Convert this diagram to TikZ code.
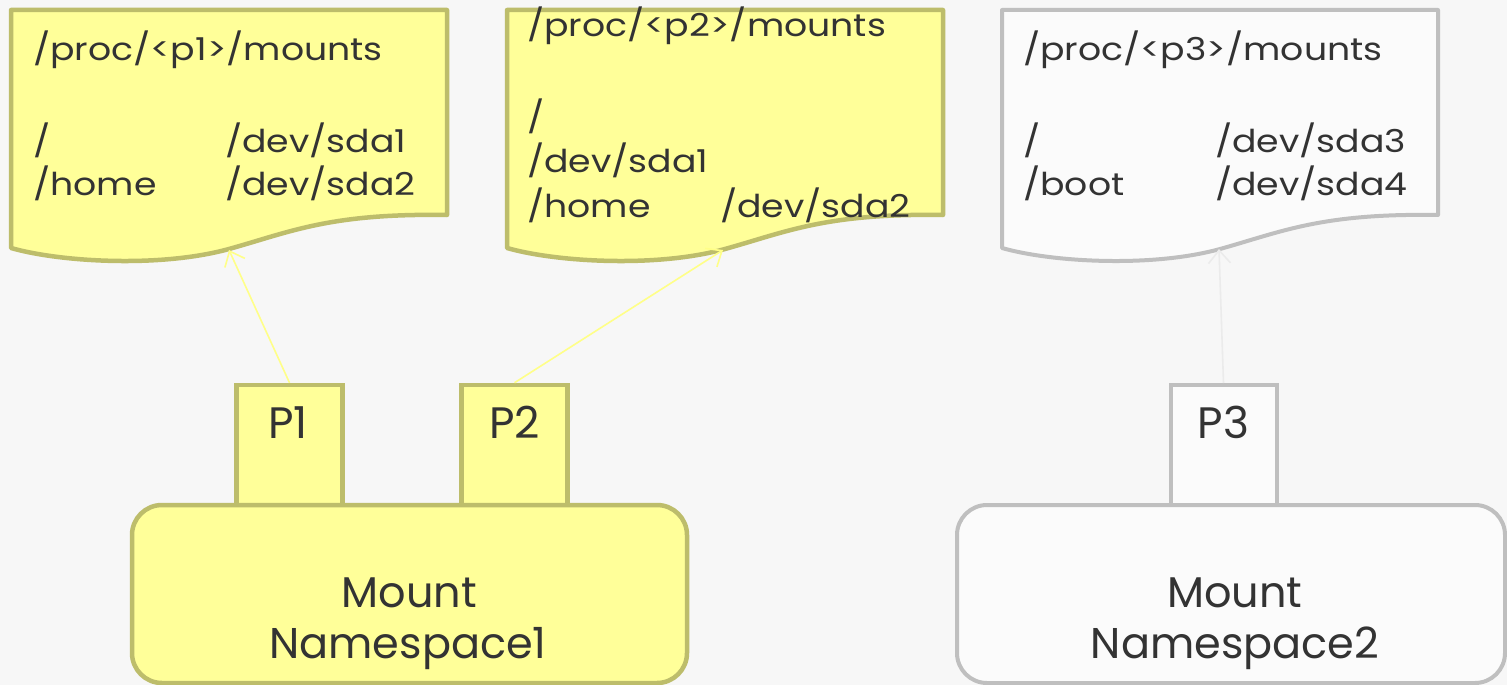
\documentclass[tikz,border=0pt]{standalone}
\usepackage{fontspec}
\setmainfont{Poppins}
\newfontfamily\docfont[FakeStretch=1.15]{Poppins}
\usetikzlibrary{arrows.meta}
\definecolor{bg}{HTML}{F7F7F7}
\definecolor{yfill}{HTML}{FFFF99}
\definecolor{ydraw}{HTML}{BDBD6B}
\definecolor{gfill}{HTML}{FBFBFB}
\definecolor{gdraw}{HTML}{BFBFBF}
\definecolor{txt}{HTML}{333333}
\definecolor{yarrow}{HTML}{FFFF88}
\definecolor{garrow}{HTML}{EBEBEB}
\tikzset{
  ydoc/.style={fill=yfill,draw=ydraw,line width=4.5pt,line join=round},
  gdoc/.style={fill=gfill,draw=gdraw,line width=4pt,line join=round},
  doctext/.style={anchor=base west,inner sep=0pt,text=txt,font=\docfont\fontsize{31.5}{36}\selectfont},
  bigtext/.style={anchor=base,inner sep=0pt,text=txt,font=\fontsize{43}{48}\selectfont},
  ptext/.style={anchor=base,inner sep=0pt,text=txt,font=\fontsize{44}{48}\selectfont},
  pbox/.style={rectangle,minimum width=106pt,minimum height=120pt,inner sep=0pt},
  nsbox/.style={rectangle,rounded corners=30pt,minimum width=555pt,minimum height=178pt,inner sep=0pt},
  yarr/.style={draw=yarrow,line width=1.6pt,-{Straight Barb[length=13pt,width=22pt]}},
  garr/.style={draw=garrow,line width=1.6pt,-{Straight Barb[length=13pt,width=22pt]}},
}
\begin{document}
\begin{tikzpicture}[x=1pt,y=-1pt]
\fill[bg] (0,0) rectangle (1507,685);
\useasboundingbox (0,0) rectangle (1507,685);

% documents
\foreach \off/\sty in {0/ydoc,496/ydoc,991/gdoc}{
  \begin{scope}[xshift=\off pt]
    \draw[\sty] (11,10) -- (447,10) -- (447,215)
      .. controls (330,213) and (290,232) .. (229,249)
      .. controls (160,268) and (60,262) .. (11,248) -- cycle;
  \end{scope}
}
\coordinate (d1) at (229,250);
\coordinate (d2) at (723,250);
\coordinate (d3) at (1219,249);

% doc 1 text
\node[doctext] (t1a) at (33,60) {/proc/<p1>/mounts};
\node[doctext] (t1b) at (33,152) {/};
\node[doctext] (t1c) at (225,152) {/dev/sda1};
\node[doctext] (t1d) at (33,195) {/home};
\node[doctext] (t1e) at (225,195) {/dev/sda2};
% doc 2 text
\node[doctext] (t2a) at (527,37) {/proc/<p2>/mounts};
\node[doctext] (t2b) at (527,128) {/};
\node[doctext] (t2c) at (527,172) {/dev/sda1};
\node[doctext] (t2d) at (527,217) {/home};
\node[doctext] (t2e) at (720,217) {/dev/sda2};
% doc 3 text
\node[doctext] (t3a) at (1023,60) {/proc/<p3>/mounts};
\node[doctext] (t3b) at (1023,152) {/};
\node[doctext] (t3c) at (1215,152) {/dev/sda3};
\node[doctext] (t3d) at (1023,195) {/boot};
\node[doctext] (t3e) at (1215,195) {/dev/sda4};

% process boxes
\node[pbox,fill=yfill,draw=ydraw,line width=4.5pt] (p1) at (289.5,445) {};
\node[pbox,fill=yfill,draw=ydraw,line width=4.5pt] (p2) at (514.5,445) {};
\node[pbox,fill=gfill,draw=gdraw,line width=4pt] (p3) at (1223.5,445) {};
\node[ptext] (p1t) at (288,438) {P1};
\node[ptext] (p2t) at (514.5,438) {P2};
\node[ptext] (p3t) at (1223.5,438) {P3};

% namespaces
\node[nsbox,fill=yfill,draw=ydraw,line width=4.5pt] (ns1) at (409.5,594) {};
\node[nsbox,fill=gfill,draw=gdraw,line width=4pt,minimum width=548pt] (ns2) at (1231,594) {};
\node[bigtext] (ns1a) at (409.5,607) {Mount};
\node[bigtext] (ns1b) at (408,658) {Namespace1};
\node[bigtext] (ns2a) at (1235,607) {Mount};
\node[bigtext] (ns2b) at (1235,658) {Namespace2};

% arrows
\draw[yarr] (p1.north) -- (d1);
\draw[yarr] (p2.north) -- (d2);
\draw[garr] (p3.north) -- (d3);
\end{tikzpicture}
\end{document}
